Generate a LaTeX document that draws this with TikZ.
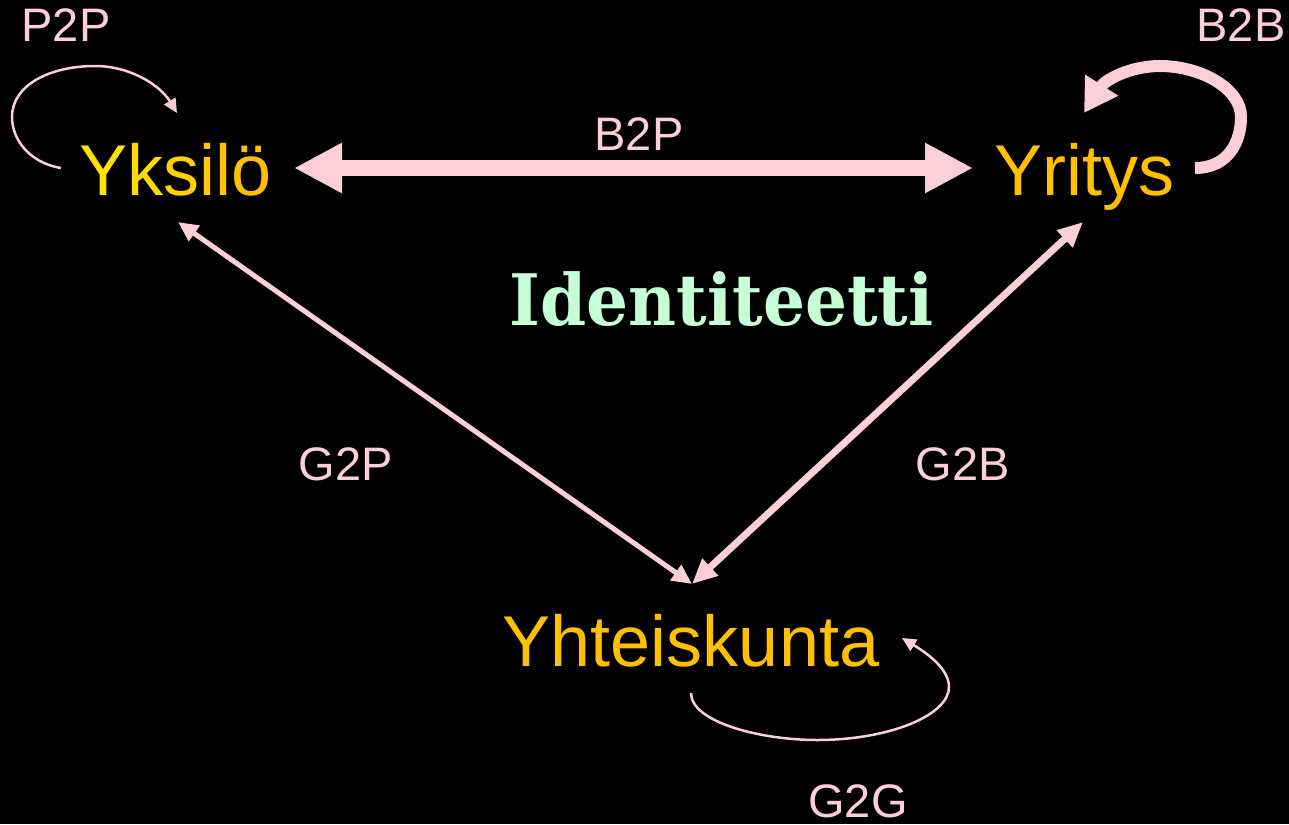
\documentclass[tikz,border=0pt]{standalone}
\usepackage{fontspec}
\setmainfont{Liberation Sans}
\newfontfamily\idfont{DejaVu Serif}
\usetikzlibrary{arrows.meta}
\definecolor{pinkc}{RGB}{252,206,216}
\definecolor{orangec}{RGB}{255,192,0}
\definecolor{mintc}{RGB}{198,255,214}
\definecolor{ya}{RGB}{255,228,0}
\definecolor{yb}{RGB}{255,220,0}
\definecolor{yc}{RGB}{255,210,0}
\definecolor{yd}{RGB}{255,202,0}
\definecolor{ye}{RGB}{255,196,0}
\tikzset{
  mainlbl/.style={inner sep=0pt, anchor=base, font=\fontsize{72}{80}\selectfont, text=orangec},
  edgelbl/.style={inner sep=0pt, anchor=base, font=\fontsize{47}{52}\selectfont, text=pinkc},
  conn/.style={draw=pinkc, line join=miter}
}
\begin{document}
\begin{tikzpicture}[x=1pt,y=-1pt]
\fill[black] (0,0) rectangle (1289,824);
\useasboundingbox (0,0) rectangle (1289,824);

% main nodes
\node[mainlbl] (yk) at (176,195) {\textcolor{ya}{Y}\textcolor{yb}{k}\textcolor{yc}{s}\textcolor{yd}{i}\textcolor{ye}{l}\textcolor{orangec}{ö}};
\node[mainlbl] (yr) at (1084,195) {Yritys};
\node[mainlbl] (yh) at (691,666) {Yhteiskunta};
\node[inner sep=0pt, anchor=base, text=mintc, xscale=0.93, font=\idfont\bfseries\fontsize{71}{80}\selectfont] (id) at (721.5,325) {Identiteetti};

% edge labels
\node[edgelbl] (p2p) at (66,42) {P2P};
\node[edgelbl] (b2b) at (1241,42) {B2B};
\node[edgelbl] (b2p) at (639,150) {B2P};
\node[edgelbl] (g2p) at (346,480) {G2P};
\node[edgelbl] (g2b) at (963,480) {G2B};
\node[edgelbl] (g2g) at (858,817) {G2G};

% connector end points
\coordinate (ykE) at (294,168);
\coordinate (yrW) at (973,168);
\coordinate (ykS) at (178,222);
\coordinate (yrS) at (1083,222);
\coordinate (yhN) at (692,584);
\coordinate (p2pA) at (61,168);
\coordinate (p2pB) at (177,113);
\coordinate (b2bA) at (1195,168);
\coordinate (b2bB) at (1084,113);
\coordinate (g2gA) at (691,693);
\coordinate (g2gB) at (902,638);

% B2P
\draw[conn, line width=16pt, {Triangle[length=48pt,width=47pt]}-{Triangle[length=48pt,width=47pt]}] (ykE) -- (yrW);
% G2P
\draw[conn, line width=5pt, {Triangle[length=20pt,width=18pt]}-{Triangle[length=20pt,width=18pt]}] (ykS) -- (yhN);
% G2B
\draw[conn, line width=7pt, {Triangle[length=25pt,width=22pt]}-{Triangle[length=25pt,width=22pt]}] (yrS) -- (yhN);
% P2P loop
\draw[conn, line width=2.5pt, -{Triangle[length=14pt,width=13pt]}] (p2pA) .. controls (30,163) and (12,140) .. (12,117) .. controls (12,85) and (50,66) .. (95,66) .. controls (130,66) and (160,85) .. (p2pB);
% B2B loop
\draw[conn, line width=12pt, -{Triangle[length=33pt,width=37pt]}] (b2bA) .. controls (1228,168) and (1241,142) .. (1241,117) .. controls (1241,88) and (1200,66) .. (1160,66) .. controls (1130,66) and (1105,80) .. (b2bB);
% G2G loop
\draw[conn, line width=2.5pt, -{Triangle[length=14pt,width=13pt]}] (g2gA) .. controls (691,722) and (760,740) .. (817,740) .. controls (890,740) and (949,715) .. (949,687) .. controls (949,668) and (925,652) .. (g2gB);
\end{tikzpicture}
\end{document}
